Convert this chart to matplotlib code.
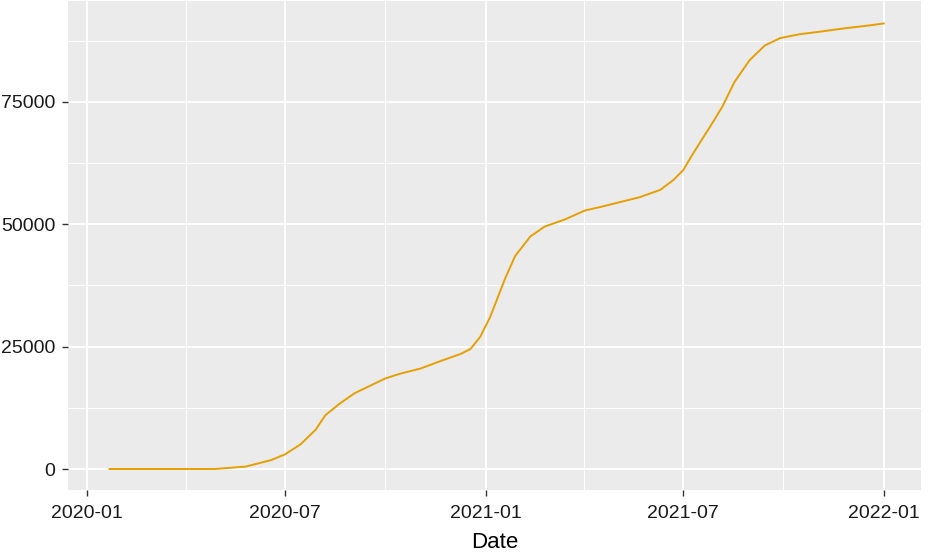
import matplotlib
matplotlib.use("Agg")
import matplotlib.pyplot as plt
import matplotlib.dates as mdates
import numpy as np
import pandas as pd

# cumulative count
dates = ["2020-01-22", "2020-04-28", "2020-05-26", "2020-06-18", "2020-07-01",
         "2020-07-15", "2020-07-29", "2020-08-07", "2020-08-21", "2020-09-03",
         "2020-09-17", "2020-10-01", "2020-10-15", "2020-11-02", "2020-11-20",
         "2020-12-09", "2020-12-18", "2020-12-27", "2021-01-05", "2021-01-12",
         "2021-01-19", "2021-01-28", "2021-02-11", "2021-02-24", "2021-03-15",
         "2021-04-02", "2021-04-16", "2021-05-04", "2021-05-22", "2021-06-10",
         "2021-06-22", "2021-07-01", "2021-07-09", "2021-07-16", "2021-07-26",
         "2021-08-06", "2021-08-17", "2021-08-31", "2021-09-14", "2021-09-28",
         "2021-10-16", "2021-11-03", "2021-11-26", "2021-12-19", "2022-01-01"]
cases = [0, 0, 500, 1800, 3000,
         5000, 8000, 11000, 13500, 15500,
         17000, 18500, 19500, 20500, 22000,
         23500, 24500, 27000, 31000, 35000,
         39000, 43500, 47500, 49500, 51000,
         52800, 53500, 54500, 55500, 57000,
         59000, 61000, 64000, 66500, 70000,
         74000, 79000, 83500, 86500, 88000,
         88800, 89300, 90000, 90600, 91000]

x_ticks = ["2020-01-01", "2020-07-01", "2021-01-01", "2021-07-01", "2022-01-01"]
x_minor = ["2020-04-01", "2020-10-01", "2021-04-01", "2021-10-01"]
y_ticks = [0, 25000, 50000, 75000]

plt.rcParams['font.family'] = ['Liberation Sans', 'DejaVu Sans']

fig = plt.figure(figsize=(9.32, 5.53), dpi=100)
ax = fig.add_axes([0.073, 0.114, 0.915, 0.884])
ax.set_facecolor('#EBEBEB')

d = pd.to_datetime(dates)
ax.plot(d, cases, color='#E69F00', lw=1.4, zorder=3)

ax.set_xlim(pd.Timestamp("2019-12-15"), pd.Timestamp("2022-02-04"))
ax.set_ylim(-4280, 95560)

ax.set_xticks(pd.to_datetime(x_ticks))
ax.set_xticks(pd.to_datetime(x_minor), minor=True)
ax.xaxis.set_major_formatter(mdates.DateFormatter('%Y-%m'))
ax.set_yticks(y_ticks)
ax.set_yticks([12500, 37500, 62500, 87500], minor=True)
ax.set_yticklabels([str(v) for v in y_ticks])

ax.grid(which='major', color='white', lw=1.3)
ax.grid(which='minor', color='white', lw=0.7)
ax.set_axisbelow(True)
for s in ax.spines.values():
    s.set_visible(False)

ax.tick_params(which='major', length=4, width=1, color='#333333',
               labelsize=14, labelcolor='#1a1a1a', pad=5)
ax.tick_params(axis='x', which='major', pad=7)
ax.tick_params(which='minor', length=0)
ax.set_xlabel('Date', fontsize=16, labelpad=7)

fig.savefig('out.png', dpi=100)
